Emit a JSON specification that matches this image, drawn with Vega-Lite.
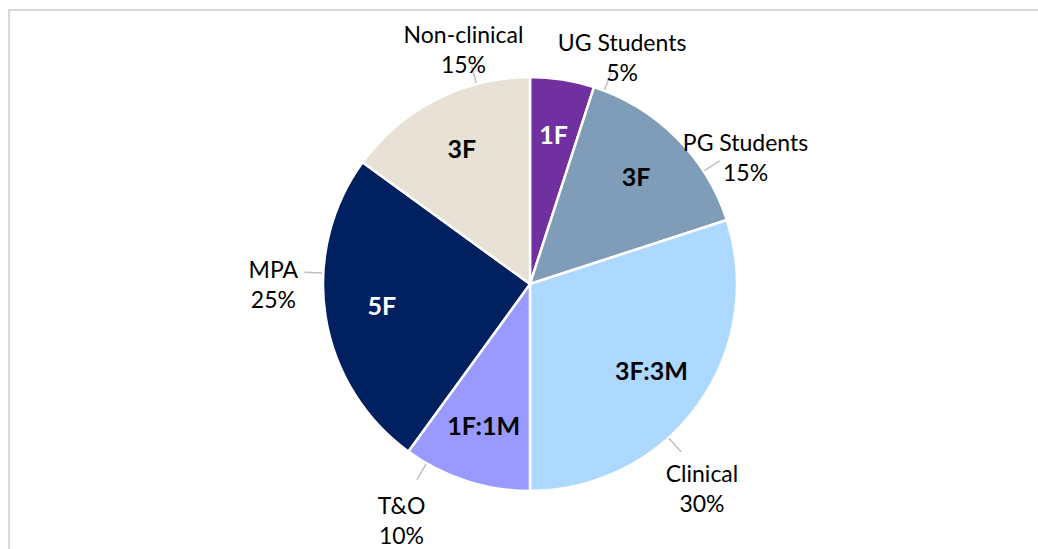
{
  "$schema": "https://vega.github.io/schema/vega-lite/v6.json",
  "width": 1042,
  "height": 548,
  "autosize": "none",
  "padding": {"left": 9, "top": 10, "right": -13, "bottom": -9},
  "background": "white",
  "view": {"stroke": "#D9D9D9", "strokeWidth": 2},
  "data": {
    "values": [
      {"category": "UG Students", "value": 5, "inner": "1F", "label": "UG Students\n5%", "order": 1},
      {"category": "PG Students", "value": 15, "inner": "3F", "label": "PG Students\n15%", "order": 2},
      {"category": "Clinical", "value": 30, "inner": "3F:3M", "label": "Clinical\n30%", "order": 3},
      {"category": "T&O", "value": 10, "inner": "1F:1M", "label": "T&O\n10%", "order": 4},
      {"category": "MPA", "value": 25, "inner": "5F", "label": "MPA\n25%", "order": 5},
      {"category": "Non-clinical", "value": 15, "inner": "3F", "label": "Non-clinical\n15%", "order": 6}
    ]
  },
  "encoding": {
    "theta": {"field": "value", "type": "quantitative", "stack": true},
    "order": {"field": "order", "type": "quantitative", "sort": "ascending"}
  },
  "resolve": {"scale": {"theta": "independent"}},
  "layer": [
    {
      "mark": {"type": "arc", "outerRadius": 207, "stroke": "white", "strokeWidth": 2.5},
      "encoding": {
        "color": {
          "field": "category",
          "type": "nominal",
          "legend": null,
          "scale": {
            "domain": ["UG Students", "PG Students", "Clinical", "T&O", "MPA", "Non-clinical"],
            "range": ["#7030A0", "#7F9DB9", "#ADD8FF", "#9999FF", "#002060", "#E7E1D6"]
          }
        }
      }
    },
    {
      "mark": {"type": "arc", "innerRadius": 208, "outerRadius": 226, "padAngle": 3.1416, "fill": null, "stroke": "#BFBFBF", "strokeWidth": 1.5},
      "encoding": {
        "theta": {"field": "value", "type": "quantitative", "stack": true, "scale": {"range": [0.2094, 6.4926]}}
      }
    },
    {
      "mark": {"type": "text", "radius": 150, "font": "Lato", "fontWeight": "bold", "fontSize": 25, "align": "center", "baseline": "middle"},
      "encoding": {
        "text": {"field": "inner", "type": "nominal"},
        "color": {
          "condition": {"test": "datum.category === 'UG Students' || datum.category === 'MPA'", "value": "white"},
          "value": "black"
        }
      }
    },
    {
      "mark": {"type": "text", "radius": 257, "font": "Lato", "fontSize": 23, "lineHeight": 30, "lineBreak": "\n", "align": "center", "baseline": "middle", "color": "black"},
      "encoding": {
        "theta": {"field": "value", "type": "quantitative", "stack": true, "scale": {"range": [0.2094, 6.4926]}},
        "text": {"field": "label", "type": "nominal"}
      }
    }
  ]
}
